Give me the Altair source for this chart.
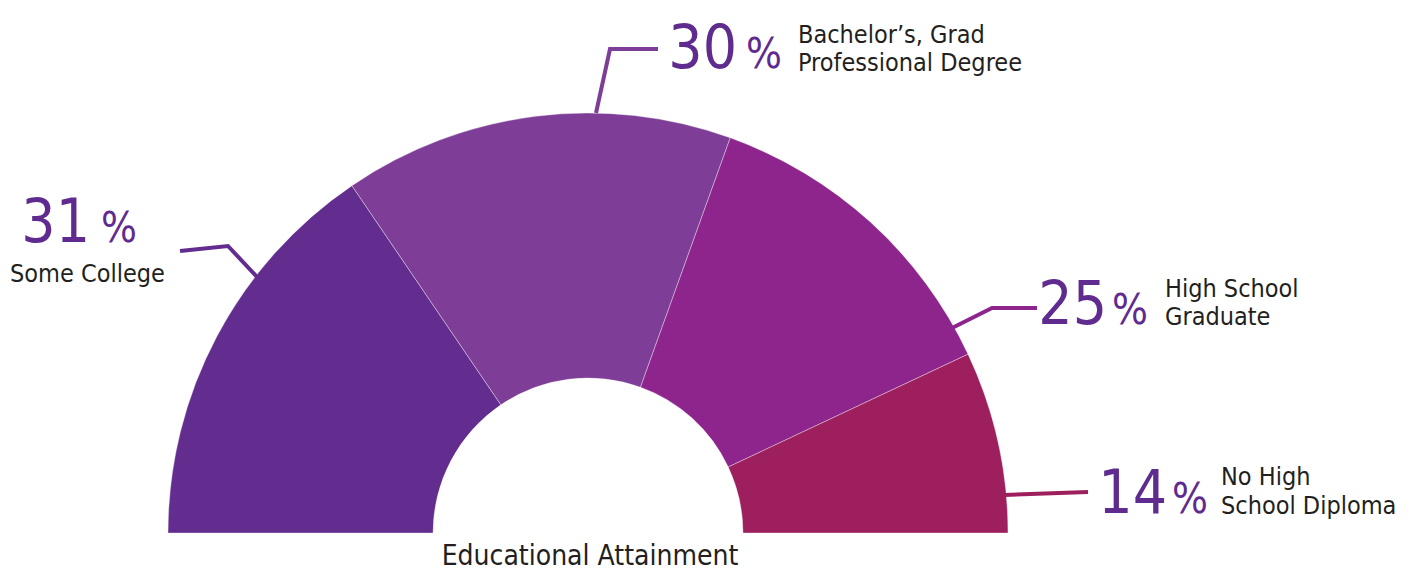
import math
import altair as alt
import pandas as pd

# ---- data ----
categories = ["Some College", "Bachelor's, Grad Professional Degree",
              "High School Graduate", "No High School Diploma"]
values = [31, 30, 25, 14]
colors = ["#632d8f", "#7e3d96", "#8d258d", "#9e1f5e"]
label_line1 = ["Some College", "Bachelor\u2019s, Grad", "High School", "No High"]
label_line2 = ["", "Professional Degree", "Graduate", "School Diploma"]
title_text = "Educational Attainment"

# ---- layout (page pixel coordinates) ----
center = (588, 533)
outer_r, inner_r = 420, 155
num_right = [(90, 242), (737, 68), (1107, 324), (1167, 513)]     # right edge of number
pct_right = [(137, 242), (782, 68), (1148, 324), (1208, 513)]    # right edge of "%"
lab1_pos = [(10, 282), (798, 43), (1165, 297), (1221, 485)]
lab2_pos = [(None, None), (798, 71), (1165, 325), (1221, 514)]
leader_pts = [
    [(258, 278), (228, 246), (180, 251)],
    [(596, 113), (610, 49), (658, 49)],
    [(952, 328), (992, 308), (1037, 308)],
    [(1004, 495), (1088, 492)],
]
title_pos = (590, 565)

W, H = 1397, 557
xs = alt.Scale(domain=[8, 8 + W], range=[0, W], nice=False, zero=False)
ys = alt.Scale(domain=[8 + H, 8], nice=False, zero=False)
cscale = alt.Scale(domain=categories, range=colors)

FONT = "'DejaVu Sans Condensed', 'Liberation Sans Narrow', sans-serif"
NUM_COLOR = "#5f2b8f"
TXT_COLOR = "#231f20"

arc_df = pd.DataFrame({"category": categories, "value": values,
                       "rank": list(range(len(categories)))})

arc = alt.Chart(arc_df).mark_arc(outerRadius=outer_r, innerRadius=inner_r,
                                 stroke="#ffffff", strokeWidth=0.6, strokeOpacity=0.6).encode(
    theta=alt.Theta("value:Q", stack=True,
                    scale=alt.Scale(domain=[0, 100], range=[-math.pi / 2, math.pi / 2])),
    order=alt.Order("rank:Q"),
    color=alt.Color("category:N", scale=cscale, legend=None),
    x=alt.X(datum=center[0], type="quantitative", scale=xs, axis=None),
    y=alt.Y(datum=center[1], type="quantitative", scale=ys, axis=None),
)

rows = []
for i, pts in enumerate(leader_pts):
    for j, (px, py) in enumerate(pts):
        rows.append({"category": categories[i], "i": j, "x": px, "y": py})
lead_df = pd.DataFrame(rows)
leaders = alt.Chart(lead_df).mark_line(strokeWidth=4, strokeJoin="miter").encode(
    x=alt.X("x:Q", scale=xs, axis=None),
    y=alt.Y("y:Q", scale=ys, axis=None),
    detail="category:N",
    order="i:Q",
    color=alt.Color("category:N", scale=cscale, legend=None),
)

num_df = pd.DataFrame({"t": [str(v) for v in values],
                       "x": [p[0] for p in num_right], "y": [p[1] for p in num_right]})
nums = alt.Chart(num_df).mark_text(align="right", baseline="alphabetic", fontSize=60,
                                   font=FONT, color=NUM_COLOR).encode(
    x=alt.X("x:Q", scale=xs, axis=None), y=alt.Y("y:Q", scale=ys, axis=None), text="t:N")

pct_df = pd.DataFrame({"t": ["%"] * 4,
                       "x": [p[0] for p in pct_right], "y": [p[1] for p in pct_right]})
pcts = alt.Chart(pct_df).mark_text(align="right", baseline="alphabetic", fontSize=42,
                                   font=FONT, color=NUM_COLOR).encode(
    x=alt.X("x:Q", scale=xs, axis=None), y=alt.Y("y:Q", scale=ys, axis=None), text="t:N")

lab_rows = []
for i in range(4):
    lab_rows.append({"t": label_line1[i], "x": lab1_pos[i][0], "y": lab1_pos[i][1]})
    if label_line2[i]:
        lab_rows.append({"t": label_line2[i], "x": lab2_pos[i][0], "y": lab2_pos[i][1]})
lab_df = pd.DataFrame(lab_rows)
labels = alt.Chart(lab_df).mark_text(align="left", baseline="alphabetic", fontSize=25,
                                     font=FONT, color=TXT_COLOR).encode(
    x=alt.X("x:Q", scale=xs, axis=None), y=alt.Y("y:Q", scale=ys, axis=None), text="t:N")

title_df = pd.DataFrame({"t": [title_text], "x": [title_pos[0]], "y": [title_pos[1]]})
title = alt.Chart(title_df).mark_text(align="center", baseline="alphabetic", fontSize=28,
                                      font=FONT, color=TXT_COLOR).encode(
    x=alt.X("x:Q", scale=xs, axis=None), y=alt.Y("y:Q", scale=ys, axis=None), text="t:N")

chart = alt.layer(arc, leaders, nums, pcts, labels, title).properties(
    width=W, height=H,
    padding={"left": 0, "top": 0, "right": 0, "bottom": 8},
    autosize=alt.AutoSizeParams(type="none"),
).configure_view(stroke=None)

chart.save("out.html", embed_options={"renderer": "svg", "actions": False})
